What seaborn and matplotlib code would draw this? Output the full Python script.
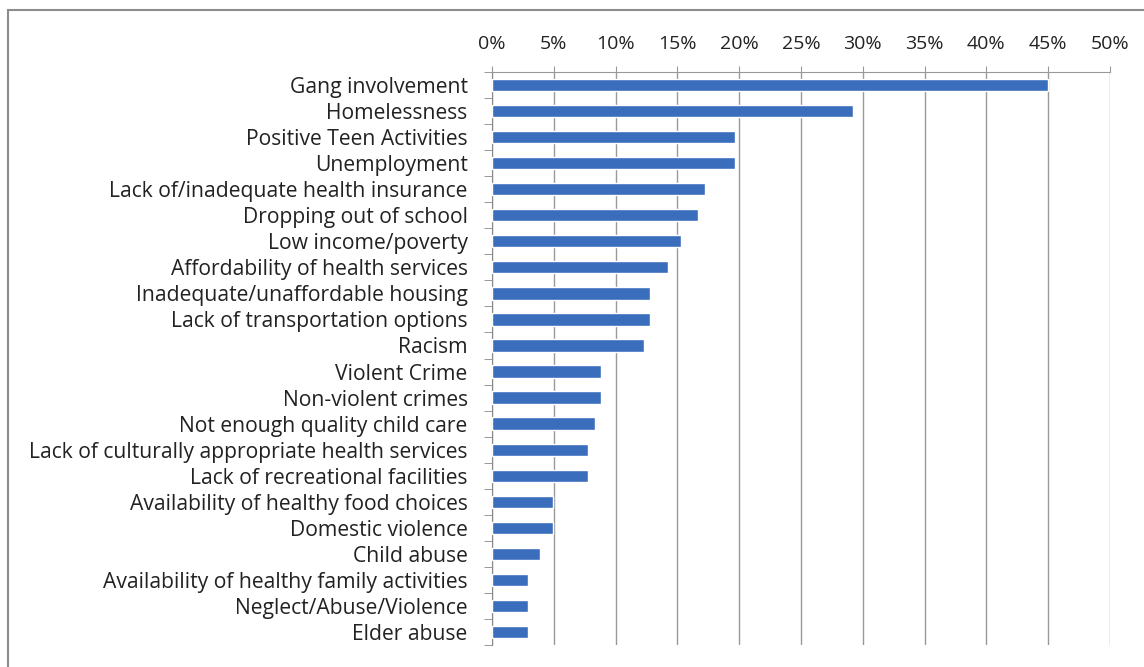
import numpy as np
import pandas as pd
import seaborn as sns
import matplotlib.pyplot as plt
from matplotlib.patches import Rectangle
from matplotlib.ticker import PercentFormatter, MultipleLocator

# Issues and share of respondents (%)
issues = [
    "Gang involvement", "Homelessness", "Positive Teen Activities", "Unemployment",
    "Lack of/inadequate health insurance", "Dropping out of school", "Low income/poverty",
    "Affordability of health services", "Inadequate/unaffordable housing",
    "Lack of transportation options", "Racism", "Violent Crime", "Non-violent crimes",
    "Not enough quality child care", "Lack of culturally appropriate health services",
    "Lack of recreational facilities", "Availability of healthy food choices",
    "Domestic violence", "Child abuse", "Availability of healthy family activities",
    "Neglect/Abuse/Violence", "Elder abuse",
]
pct = [45.0, 29.2, 19.7, 19.7, 17.2, 16.7, 15.3, 14.2, 12.8, 12.8, 12.3,
       8.8, 8.8, 8.3, 7.8, 7.8, 4.9, 4.9, 3.9, 2.9, 2.9, 2.9]

df = pd.DataFrame({"issue": issues, "pct": pct})

sns.set_style("white")
plt.rcParams["font.family"] = ["Open Sans", "DejaVu Sans"]

fig = plt.figure(figsize=(11.44, 6.67), dpi=100)
ax = fig.add_axes([492 / 1144, 1 - 645 / 667, (1110 - 492) / 1144, (645 - 72) / 667])

sns.barplot(data=df, x="pct", y="issue", color="#3a6ebd", saturation=1,
            width=0.47, ax=ax, zorder=3)

ax.set_xlim(0, 50)
ax.set_ylim(len(issues) - 0.5, -0.5)
ax.xaxis.set_major_locator(MultipleLocator(5))
ax.xaxis.set_major_formatter(PercentFormatter(decimals=0))
ax.xaxis.tick_top()
ax.grid(axis="x", color="#999999", linewidth=1, zorder=0)
ax.set_xlabel("")
ax.set_ylabel("")

for side in ["right", "bottom"]:
    ax.spines[side].set_visible(False)
ax.spines["left"].set_color("#888888")
ax.spines["top"].set_color("#999999")

ax.tick_params(axis="x", which="major", top=True, length=4, color="#999999",
               labelsize=14, pad=10, labelcolor="#222222")
ax.tick_params(axis="y", which="major", left=False, labelsize=15.2, pad=14,
               labelcolor="#222222")
ax.set_yticks(np.arange(len(issues) + 1) - 0.5, minor=True)
ax.tick_params(axis="y", which="minor", left=True, length=6, color="#888888")

fig.patches.append(Rectangle((8 / 1144, -0.1), 1.2, (667 - 10) / 667 + 0.1,
                             transform=fig.transFigure, fill=False,
                             edgecolor="#8c8c8c", linewidth=1.5))

fig.savefig("out.png", dpi=100)
